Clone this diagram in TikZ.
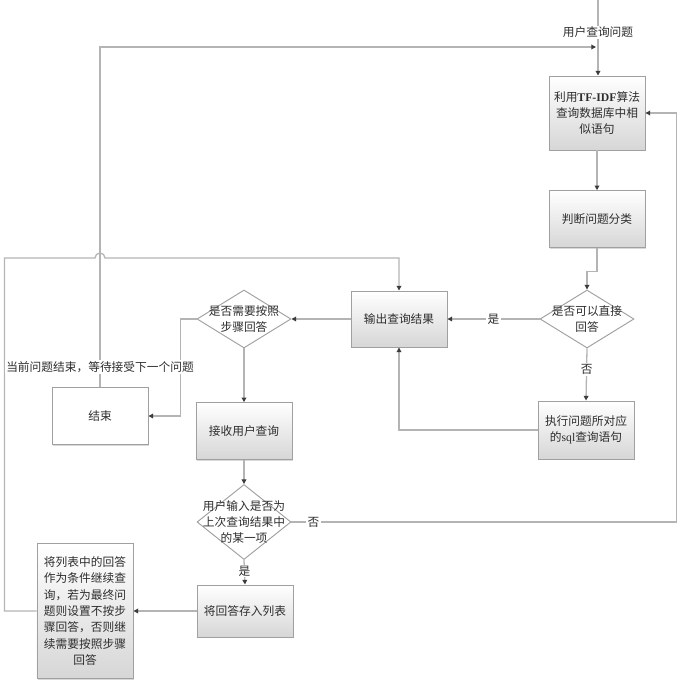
\documentclass[tikz,border=0pt]{standalone}
\usepackage{fontspec}
\setmainfont{Liberation Serif}
\newfontfamily\cjk{Noto Sans CJK SC}
\usetikzlibrary{arrows.meta,positioning,shapes.geometric,shadows}
\definecolor{linegray}{RGB}{180,180,180}
\definecolor{edgegray}{RGB}{160,160,160}
\definecolor{tipgray}{RGB}{60,60,60}
\definecolor{txtgray}{RGB}{45,45,45}
\newcommand{\lat}[1]{{\rmfamily #1}}
\tikzset{
    %Define standard arrow tip
    >={Triangle[width=4pt,length=4pt,color=tipgray]},
    conn/.style={
      draw=linegray, line width=1.1pt},
    boxbase/.style={
      rectangle,
      draw=edgegray, line width=0.8pt,
      drop shadow={shadow xshift=0.35mm,shadow yshift=-0.35mm,fill=black!30},
      minimum width=2.88cm,
      minimum height=1.7cm,
      align=center,
      text=txtgray,
      font=\cjk\fontsize{10}{14}\selectfont},
    box/.style={
      boxbase,
      top color=white, bottom color=black!16},
    endbox/.style={
      boxbase,
      fill=white},
    dia/.style={
      diamond,
      draw=edgegray, line width=0.8pt,
      fill=white,
      inner sep=0pt,
      minimum width=2.82cm,
      minimum height=1.74cm},
    dtext/.style={
      align=center, text=txtgray, inner sep=0pt,
      font=\cjk\fontsize{10}{14}\selectfont},
    lab/.style={
      fill=white, inner sep=1pt, text=txtgray,
      font=\cjk\fontsize{10}{12}\selectfont},
}
\begin{document}
\begin{tikzpicture}[x=0.03cm, y=-0.03cm]
    \useasboundingbox (0,0) rectangle (683,683);
    \coordinate (top) at (598,0);
    \coordinate (j1)  at (596,47);
    \coordinate (hop) at (95,258);

    % right column
    \node (b1) [box, minimum height=2.22cm] at (597,113)
          {利用\textbf{\lat{TF-IDF}}算法\\查询数据库中相\\似语句};
    \node (b2) [box] at (597,219)
          {判断问题分类};
    \node (d1) [dia, label={[dtext]center:{是否可以直接\\回答}}] at (587,319)
          {};
    \node (ex) [box, minimum height=1.74cm] at (586,430)
          {执行问题所对应\\的\lat{sql}查询语句};

    % middle
    \node (out) [box, minimum height=1.68cm] at (399,319)
          {输出查询结果};
    \node (d2) [dia, label={[dtext]center:{是否需要按照\\步骤回答}}] at (244,319)
          {};
    \node (recv) [box] at (244,431)
          {接收用户查询};
    \node (d3) [dia, minimum height=2.25cm,
                label={[dtext]center:{用户输入是否为\\上次查询结果中\\的某一项}}] at (244,522)
          {};
    \node (save) [box, minimum height=1.56cm] at (245,611)
          {将回答存入列表};

    % left
    \node (end) [endbox] at (100,416)
          {结束};
    \node (bl) [box, minimum height=4.05cm] at (85,611)
          {将列表中的回答\\作为条件继续查\\询，若为最终问\\题则设置不按步\\骤回答，否则继\\续需要按照步骤\\回答};

    % connectors
    \draw [conn,->] (top) -- node[lab,pos=0.43]{用户查询问题} (top |- b1.north);
    \draw [conn,->] (b1) -- (b2);
    \draw [conn,->] (b2.south) -- ++(0,24) -| (d1.north);
    \draw [conn,->] (d1.west) -- node[lab]{是} (out.east);
    \draw [conn,->] (d1.south) -- node[lab,pos=0.4]{否} (ex.north);
    \draw [conn,->] (ex.west) -| (out.south);
    \draw [conn,->] (out.west) -- (d2.east);
    \draw [conn,->] (d2.west) -- ++(-16,0) |- (end.east);
    \draw [conn,->] (d2.south) -- (recv.north);
    \draw [conn,->] (recv.south) -- (d3.north);
    \draw [conn,->] (d3.east) -- ++(22,0) node[lab]{否}
          -| ([xshift=0.93cm]b1.east) -- (b1.east);
    \draw [conn,->] (d3.south) -- node[lab,pos=0.45]{是} (save.north);
    \draw [conn,->] (save.west) -- (bl.east);
    \draw [conn,->] (bl.west) -- ++(-32,0) |- (hop)
          arc [start angle=180, end angle=0, radius=0.15cm] -| (out.north);
    \draw [conn,->] (end.north) -- ++(0,-20)
          node[lab]{当前问题结束，等待接受下一个问题} |- (j1);
\end{tikzpicture}
\end{document}
